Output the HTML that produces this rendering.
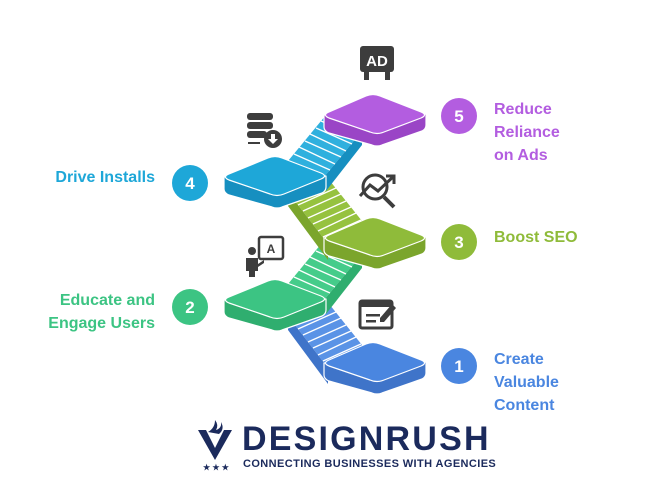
<!DOCTYPE html>
<html><head><meta charset="utf-8"><style>
html,body{margin:0;padding:0;background:#fff;}
svg{display:block;}
text{font-family:"Liberation Sans",Arial,sans-serif;font-weight:bold;}
</style></head><body>
<svg width="650" height="500" viewBox="0 0 650 500" xmlns="http://www.w3.org/2000/svg">

<!-- ===== Stairs ===== -->
<!-- blue stairs (2->1) -->
<g>
  <polygon points="288,316 326,300 366,350 328,368" fill="#5a93e6"/>
  <polygon points="288,316 328,368 328,384 288,330" fill="#3f74c9"/>
  <g stroke="#fff" stroke-width="1.3">
    <line x1="293" y1="322" x2="331" y2="306"/><line x1="298" y1="329" x2="336" y2="312"/>
    <line x1="303" y1="335" x2="341" y2="318"/><line x1="308" y1="342" x2="346" y2="325"/>
    <line x1="313" y1="348" x2="351" y2="331"/><line x1="318" y1="355" x2="356" y2="337"/>
    <line x1="323" y1="361" x2="361" y2="344"/>
  </g>
</g>
<!-- green stairs (2->3) -->
<g>
  <polygon points="288,284 326,238 362,254 324,300" fill="#45cc8a"/>
  <polygon points="324,300 362,254 362,268 326,314" fill="#2fae6f"/>
  <g stroke="#fff" stroke-width="1.3">
    <line x1="294" y1="277" x2="330" y2="293"/><line x1="299" y1="270" x2="335" y2="287"/>
    <line x1="305" y1="264" x2="341" y2="280"/><line x1="310" y1="257" x2="346" y2="274"/>
    <line x1="316" y1="251" x2="352" y2="267"/><line x1="321" y1="244" x2="357" y2="260"/>
  </g>
</g>
<!-- lime stairs (4->3) -->
<g>
  <polygon points="288,192 326,176 366,226 328,244" fill="#96c23f"/>
  <polygon points="288,192 328,244 328,260 288,206" fill="#7ba52c"/>
  <g stroke="#fff" stroke-width="1.3">
    <line x1="293" y1="198" x2="331" y2="182"/><line x1="298" y1="205" x2="336" y2="188"/>
    <line x1="303" y1="211" x2="341" y2="194"/><line x1="308" y1="218" x2="346" y2="201"/>
    <line x1="313" y1="224" x2="351" y2="207"/><line x1="318" y1="231" x2="356" y2="213"/>
    <line x1="323" y1="237" x2="361" y2="220"/>
  </g>
</g>
<!-- cyan stairs (4->5) -->
<g>
  <polygon points="288,161 326,115 362,131 324,177" fill="#2fb0de"/>
  <polygon points="324,177 362,131 362,145 326,191" fill="#168fc0"/>
  <g stroke="#fff" stroke-width="1.3">
    <line x1="294" y1="154" x2="330" y2="170"/><line x1="299" y1="147" x2="335" y2="164"/>
    <line x1="305" y1="141" x2="341" y2="157"/><line x1="310" y1="134" x2="346" y2="151"/>
    <line x1="316" y1="128" x2="352" y2="144"/><line x1="321" y1="121" x2="357" y2="137"/>
  </g>
</g>

<!-- ===== Platforms ===== -->
<g stroke="#fff" stroke-width="1.2" stroke-linejoin="round">
  <!-- 1 blue -->
  <path d="M324,363 L324,375 Q324,379 329,381 L372,393 Q377,395 382,393 L422,379 Q426,377 426,373 L426,362 Z" fill="#3f74c9"/>
  <path d="M329,360 L366,344 Q373,341 380,344 L421,360 Q428,363 421,366 L384,380 Q377,383 370,380 L329,366 Q322,363 329,360 Z" fill="#4a86e0"/>
  <!-- 3 lime -->
  <path d="M324,238 L324,250 Q324,254 329,256 L372,268 Q377,270 382,268 L422,254 Q426,252 426,248 L426,237 Z" fill="#7ba52c"/>
  <path d="M329,235 L366,219 Q373,216 380,219 L421,235 Q428,238 421,241 L384,255 Q377,258 370,255 L329,241 Q322,238 329,235 Z" fill="#8fbb3a"/>
  <!-- 5 purple -->
  <path d="M324,115 L324,127 Q324,131 329,133 L372,145 Q377,147 382,145 L422,131 Q426,129 426,125 L426,114 Z" fill="#9a45c6"/>
  <path d="M329,112 L366,96 Q373,93 380,96 L421,112 Q428,115 421,118 L384,132 Q377,135 370,132 L329,118 Q322,115 329,112 Z" fill="#b35de0"/>
  <!-- 2 green -->
  <path d="M224,300 L224,312 Q224,316 229,318 L272,330 Q277,332 282,330 L322,316 Q326,314 326,310 L326,299 Z" fill="#2fae6f"/>
  <path d="M229,297 L268,281 Q275,278 282,281 L321,296 Q328,299 321,302 L284,317 Q277,320 270,317 L229,303 Q222,300 229,297 Z" fill="#3cc483"/>
  <!-- 4 cyan -->
  <path d="M224,177 L224,189 Q224,193 229,195 L272,207 Q277,209 282,207 L322,193 Q326,191 326,187 L326,176 Z" fill="#168fc0"/>
  <path d="M229,174 L268,158 Q275,155 282,158 L321,173 Q328,176 321,179 L284,194 Q277,197 270,194 L229,180 Q222,177 229,174 Z" fill="#1ea7d8"/>
</g>

<!-- ===== Icons ===== -->
<g fill="#3d3d3d">
  <rect x="360" y="46" width="34" height="26" rx="3"/>
  <rect x="364" y="72" width="5" height="8"/><rect x="385" y="72" width="5" height="8"/>
  <text x="377" y="66" font-size="15" fill="#fff" text-anchor="middle">AD</text>
  <rect x="247" y="113" width="26" height="7" rx="3"/>
  <rect x="247" y="122" width="26" height="7" rx="3"/>
  <rect x="247" y="131" width="20" height="7" rx="3"/>
  <circle cx="273" cy="139" r="9"/>
  <path d="M271,134 h4 v5 h3 l-5,5 l-5,-5 h3z" fill="#fff"/>
  <rect x="248" y="142" width="12" height="2"/>
  <g fill="none" stroke="#3d3d3d" stroke-width="3">
    <circle cx="375" cy="187" r="12"/>
    <polyline points="360,196 370,185 378,191 394,176"/>
    <line x1="384" y1="197" x2="394" y2="207" stroke-width="4"/>
    <polyline points="386,176 394,176 394,184"/>
  </g>
  <circle cx="252" cy="251" r="4"/>
  <path d="M246,258 h12 v6 l6,-4 v3 l-6,4 v4 h-3 v6 h-6 v-6 h-3z"/>
  <rect x="259" y="237" width="24" height="22" rx="2" fill="none" stroke="#3d3d3d" stroke-width="2.5"/>
  <text x="271" y="253" font-size="12" text-anchor="middle">A</text>
  <rect x="360" y="301" width="32" height="27" rx="2" fill="none" stroke="#3d3d3d" stroke-width="3"/>
  <rect x="360" y="301" width="32" height="6"/>
  <rect x="366" y="314" width="14" height="2.5"/><rect x="366" y="320" width="10" height="2.5"/>
  <path d="M380,318 l12,-14 l4,4 l-12,14 h-4z"/>
</g>

<!-- ===== Circles ===== -->
<g font-size="17" fill="#fff" text-anchor="middle">
  <circle cx="459" cy="116" r="18" fill="#b35de0"/><text x="459" y="122">5</text>
  <circle cx="190" cy="183" r="18" fill="#1ea7d8"/><text x="190" y="189">4</text>
  <circle cx="459" cy="242" r="18" fill="#8fbb3a"/><text x="459" y="248">3</text>
  <circle cx="190" cy="307" r="18" fill="#3cc483"/><text x="190" y="313">2</text>
  <circle cx="459" cy="366" r="18" fill="#4a86e0"/><text x="459" y="372">1</text>
</g>

<!-- ===== Labels ===== -->
<g font-size="16">
  <text x="494" y="114" fill="#b35de0">Reduce</text>
  <text x="494" y="137" fill="#b35de0">Reliance</text>
  <text x="494" y="160" fill="#b35de0">on Ads</text>
  <text x="494" y="242" fill="#8fbb3a">Boost SEO</text>
  <text x="494" y="364" fill="#4a86e0">Create</text>
  <text x="494" y="387" fill="#4a86e0">Valuable</text>
  <text x="494" y="410" fill="#4a86e0">Content</text>
  <text x="155" y="182" fill="#1ea7d8" text-anchor="end">Drive Installs</text>
  <text x="155" y="305" fill="#3cc483" text-anchor="end">Educate and</text>
  <text x="155" y="328" fill="#3cc483" text-anchor="end">Engage Users</text>
</g>

<!-- ===== Logo ===== -->
<g fill="#1b2a5c">
  <path d="M198,430 h8 l9,18 l9,-18 h8 l-17,30z"/>
  <path d="M208,432 q7,-4 7,-12 q4,5 1,10 q6,-2 5,-8 q4,7 -2,12 z"/>
  <text x="203" y="470" font-size="8">★ ★ ★</text>
  <text x="242" y="450" font-size="34" letter-spacing="2.2">DESIGNRUSH</text>
  <text x="243" y="467" font-size="11" font-weight="normal" letter-spacing="0.4">CONNECTING BUSINESSES WITH AGENCIES</text>
</g>
</svg>
</body></html>
